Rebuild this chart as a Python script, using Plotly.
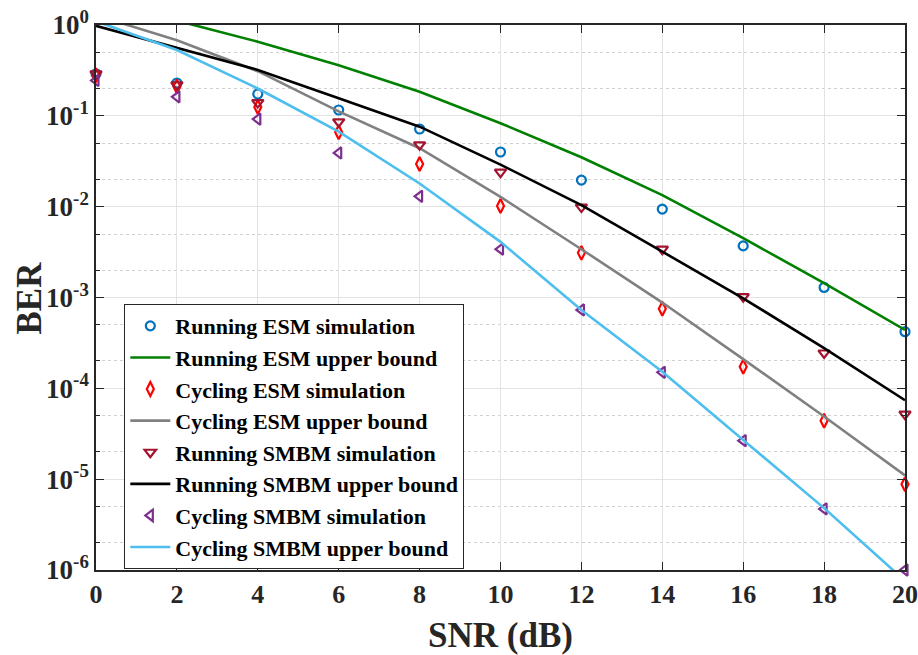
import plotly.graph_objects as go

snr = [0, 2, 4, 6, 8, 10, 12, 14, 16, 18, 20]

run_esm_sim = [0.29, 0.23, 0.174, 0.116, 0.0716, 0.040, 0.0196, 0.0094, 0.0037, 0.00129, 0.00042]
run_esm_ub = [1.9, 1.11, 0.655, 0.36, 0.184, 0.083, 0.035, 0.0134, 0.0045, 0.00144, 0.00044]
cyc_esm_sim = [0.28, 0.21, 0.125, 0.066, 0.0295, 0.0102, 0.0031, 0.00075, 0.000173, 4.4e-5, 8.8e-6]
cyc_esm_ub = [1.28, 0.68, 0.31, 0.112, 0.044, 0.0128, 0.0034, 0.00088, 0.00021, 4.9e-5, 1.1e-5]
run_smbm_sim = [0.29, 0.22, 0.14, 0.086, 0.048, 0.024, 0.0099, 0.0034, 0.00102, 0.000245, 5.2e-5]
run_smbm_ub = [0.98, 0.56, 0.32, 0.156, 0.076, 0.029, 0.0104, 0.0032, 0.00098, 0.000277, 7.4e-5]
cyc_smbm_sim = [0.245, 0.162, 0.092, 0.039, 0.013, 0.0034, 0.00073, 0.00015, 2.65e-5, 4.7e-6, 1.0e-6]
cyc_smbm_ub = [1.10, 0.53, 0.20, 0.067, 0.018, 0.0041, 0.00073, 0.000152, 2.7e-5, 4.8e-6, 7.6e-7]

x_ticks = [0, 2, 4, 6, 8, 10, 12, 14, 16, 18, 20]
y_ticks = [1, 1e-1, 1e-2, 1e-3, 1e-4, 1e-5, 1e-6]
y_tick_text = ["<b>10<sup>0</sup></b>", "<b>10<sup>-1</sup></b>", "<b>10<sup>-2</sup></b>",
               "<b>10<sup>-3</sup></b>", "<b>10<sup>-4</sup></b>", "<b>10<sup>-5</sup></b>",
               "<b>10<sup>-6</sup></b>"]

FONT = "Liberation Serif, Times New Roman, serif"

fig = go.Figure()

def sim(y, name, color, symbol, size=10):
    fig.add_trace(go.Scatter(x=snr, y=y, name=name, mode="markers", cliponaxis=False,
                             marker=dict(symbol=symbol, size=size, color=color,
                                         line=dict(color=color, width=2.2))))

def ub(y, name, color):
    fig.add_trace(go.Scatter(x=snr, y=y, name=name, mode="lines",
                             line=dict(color=color, width=2.6)))

sim(run_esm_sim, "Running ESM simulation", "#0072BD", "circle-open", 9)
ub(run_esm_ub, "Running ESM upper bound", "#008000")
sim(cyc_esm_sim, "Cycling ESM simulation", "#FF0000", "diamond-tall-open", 10)
ub(cyc_esm_ub, "Cycling ESM upper bound", "#808080")
sim(run_smbm_sim, "Running SMBM simulation", "#A2142F", "triangle-down-open", 10)
ub(run_smbm_ub, "Running SMBM upper bound", "#000000")
sim(cyc_smbm_sim, "Cycling SMBM simulation", "#7E2F8E", "triangle-left-open", 10)
ub(cyc_smbm_ub, "Cycling SMBM upper bound", "#4DBEEE")

fig.update_layout(
    width=918, height=655,
    margin=dict(l=96, r=13, t=25, b=85, autoexpand=False),
    paper_bgcolor="white", plot_bgcolor="white",
    font=dict(family=FONT, color="#262626"),
    showlegend=True,
    legend=dict(x=0.035, y=0.488, xanchor="left", yanchor="top",
                bgcolor="white", bordercolor="#262626", borderwidth=1,
                font=dict(family=FONT, size=22, color="black", weight="bold"),
                tracegroupgap=0, itemwidth=40),
    annotations=[
        dict(text="<b>SNR (dB)</b>", xref="paper", yref="paper", x=0.5, y=-0.12,
             xanchor="center", yanchor="middle", showarrow=False,
             font=dict(family=FONT, size=35, color="#262626")),
        dict(text="<b>BER</b>", xref="paper", yref="paper", x=-0.0816, y=0.5,
             xanchor="center", yanchor="middle", showarrow=False, textangle=-90,
             font=dict(family=FONT, size=35, color="#262626")),
    ],
)

fig.update_xaxes(
    range=[0, 20], tickvals=x_ticks, ticks="inside", ticklen=8, tickwidth=1.2,
    tickcolor="#262626", showline=True, linecolor="#262626", linewidth=1.5, mirror="ticks",
    showgrid=True, gridcolor="#E3E3E3", gridwidth=1, zeroline=False, automargin=False,
    tickfont=dict(family=FONT, size=26, color="#262626", weight="bold"),
)

fig.update_yaxes(
    type="log", range=[-6, 0], tickvals=y_ticks, ticktext=y_tick_text,
    ticks="inside", ticklen=8, tickwidth=1.2, tickcolor="#262626",
    showline=True, linecolor="#262626", linewidth=1.5, mirror="ticks",
    showgrid=True, gridcolor="#E3E3E3", gridwidth=1, zeroline=False, automargin=False,
    tickfont=dict(family=FONT, size=27, color="#262626"),
    minor=dict(ticks="inside", ticklen=4, tickcolor="#262626", showgrid=True,
               gridcolor="#D0D0D0", griddash="dot", gridwidth=1),
)

fig.write_html("out.html")
